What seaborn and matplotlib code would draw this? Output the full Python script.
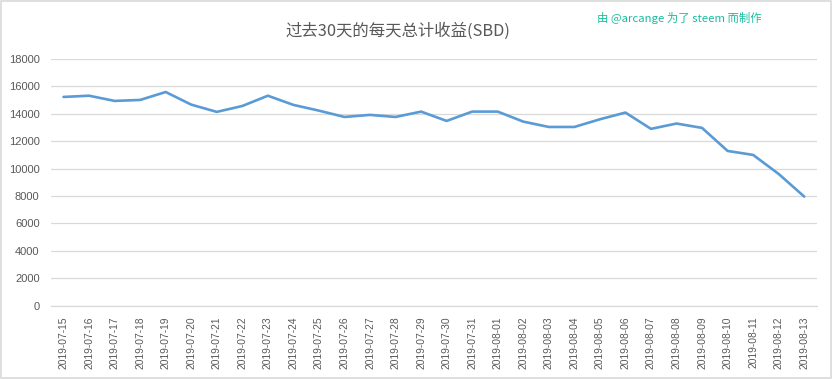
import numpy as np
import pandas as pd
import seaborn as sns
import matplotlib.pyplot as plt
from matplotlib.patches import Rectangle

# data
dates = ['2019-07-15', '2019-07-16', '2019-07-17', '2019-07-18', '2019-07-19',
         '2019-07-20', '2019-07-21', '2019-07-22', '2019-07-23', '2019-07-24',
         '2019-07-25', '2019-07-26', '2019-07-27', '2019-07-28', '2019-07-29',
         '2019-07-30', '2019-07-31', '2019-08-01', '2019-08-02', '2019-08-03',
         '2019-08-04', '2019-08-05', '2019-08-06', '2019-08-07', '2019-08-08',
         '2019-08-09', '2019-08-10', '2019-08-11', '2019-08-12', '2019-08-13']
sbd = [15230, 15320, 14940, 15010, 15590, 14670, 14140, 14570, 15320, 14650,
       14230, 13770, 13920, 13770, 14160, 13480, 14160, 14160, 13430, 13040,
       13040, 13600, 14090, 12900, 13290, 12970, 11290, 11000, 9610, 7960]
yticks = list(range(0, 18001, 2000))

title = '过去30天的每天总计收益(SBD)'
credit = '由 @arcange 为了 steem 而制作'

df = pd.DataFrame({'date': dates, 'sbd': sbd})

sns.set_style('white')
plt.rcParams['font.family'] = ['Liberation Sans', 'Noto Sans CJK SC', 'DejaVu Sans']

fig = plt.figure(figsize=(8.33, 3.79), dpi=100)
ax = fig.add_axes([0.0609, 0.1934, 0.9199, 0.651])

sns.lineplot(data=df, x='date', y='sbd', sort=False, color='#5b9bd5',
             linewidth=1.9, ax=ax)

ax.set_xlim(-0.5, len(dates) - 0.5)
ax.set_ylim(0, 18000)
ax.set_yticks(yticks)
ax.set_yticklabels([str(v) for v in yticks])
ax.set_xlabel('')
ax.set_ylabel('')
ax.grid(axis='y', color='#d9d9d9', linewidth=0.9)
ax.set_axisbelow(True)
for s in ['top', 'right', 'left']:
    ax.spines[s].set_visible(False)
ax.spines['bottom'].set_color('#d9d9d9')
ax.spines['bottom'].set_linewidth(0.9)
ax.tick_params(axis='y', length=0, pad=8, labelsize=8, labelcolor='#595959')
ax.tick_params(axis='x', length=0, pad=8, labelsize=7.4, labelcolor='#595959',
               labelrotation=90)

fig.text(0.478, 0.918, title, ha='center', va='center', fontsize=11.8,
         color='#595959', family=['Noto Sans CJK SC', 'DejaVu Sans'])
fig.text(0.815, 0.953, credit, ha='center', va='center', fontsize=8.2,
         color='#1abc9c', family=['Noto Sans CJK SC', 'DejaVu Sans'])

# outer border
fig.patches.append(Rectangle((0.001, 0.002), 0.996, 0.995, transform=fig.transFigure,
                             fill=False, edgecolor='#d9d9d9', linewidth=1.2))

fig.savefig('out.png', dpi=100)
